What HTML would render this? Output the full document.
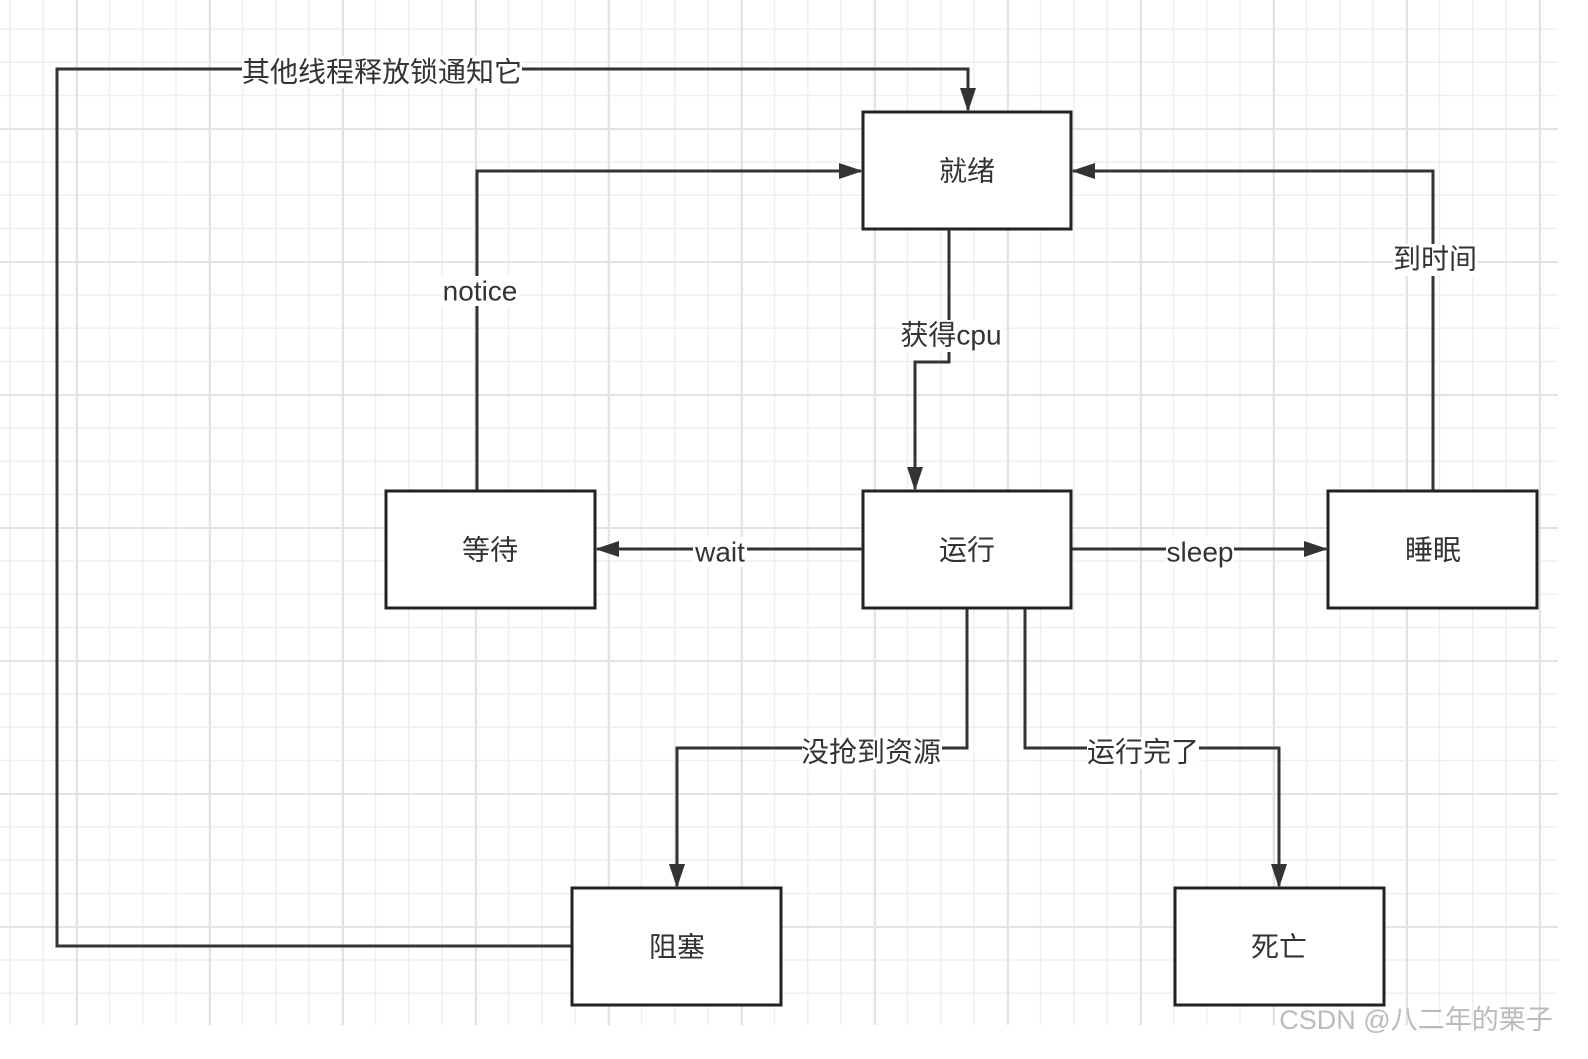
<!DOCTYPE html>
<html><head><meta charset="utf-8"><style>
html,body{margin:0;padding:0;background:#fff;}
body{width:1588px;height:1059px;overflow:hidden;position:relative;}
.grid{position:absolute;left:0;top:0;width:1558px;height:1025px;
background-image:
linear-gradient(to right,#e3e3e3 2px,transparent 2px),
linear-gradient(to bottom,#e3e3e3 2px,transparent 2px),
linear-gradient(to right,#efefef 1.5px,transparent 1.5px),
linear-gradient(to bottom,#efefef 1.5px,transparent 1.5px);
background-size:133px 133px,133px 133px,33.25px 33.25px,33.25px 33.25px;
background-position:76px -5px,76px -5px,9px -5px,9px -5px;}
svg{position:absolute;left:0;top:0;}
text{font-family:"Liberation Sans","Noto Sans CJK SC",sans-serif;font-size:28px;fill:#333;text-anchor:middle;dominant-baseline:central;}
</style></head><body>
<div class="grid"></div>
<svg width="1588" height="1059">
<defs>
<marker id="b" viewBox="0 0 24 24" markerWidth="24" markerHeight="24" refX="22" refY="12" orient="auto" markerUnits="userSpaceOnUse"><path d="M0,4 L24,12 L0,20 z" fill="#333"/></marker></defs>
<g fill="none" stroke="#333" stroke-width="3">
<path d="M572,946 H57 V69 H968 V110" marker-end="url(#b)"/>
<path d="M477,491 V171 H861" marker-end="url(#b)"/>
<path d="M1433,491 V171 H1073" marker-end="url(#b)"/>
<path d="M949,229 V362 H915 V489" marker-end="url(#b)"/>
<path d="M863,549 H597" marker-end="url(#b)"/>
<path d="M1071,549 H1326" marker-end="url(#b)"/>
<path d="M967,608 V748 H677 V886" marker-end="url(#b)"/>
<path d="M1025,608 V748 H1279 V886" marker-end="url(#b)"/>
</g>
<g fill="#fff" stroke="#222" stroke-width="3">
<rect x="863" y="112" width="208" height="117"/>
<rect x="863" y="491" width="208" height="117"/>
<rect x="386" y="491" width="209" height="117"/>
<rect x="1328" y="491" width="209" height="117"/>
<rect x="572" y="888" width="209" height="117"/>
<rect x="1175" y="888" width="209" height="117"/>
</g>
<g fill="#fff">
<rect x="242" y="56" width="280" height="32"/>
<rect x="441" y="276" width="80" height="30"/>
<rect x="1393" y="244" width="84" height="32"/>
<rect x="899" y="320" width="104" height="32"/>
<rect x="693" y="537" width="54" height="30"/>
<rect x="1166" y="537" width="68" height="30"/>
<rect x="802" y="737" width="140" height="32"/>
<rect x="1087" y="737" width="112" height="32"/>
</g>
<text x="382" y="72">其他线程释放锁通知它</text>
<text x="480" y="291">notice</text>
<text x="1435" y="259">到时间</text>
<text x="951" y="335">获得cpu</text>
<text x="720" y="552">wait</text>
<text x="1200" y="552">sleep</text>
<text x="871" y="752">没抢到资源</text>
<text x="1143" y="752">运行完了</text>
<text x="967" y="171">就绪</text>
<text x="967" y="550">运行</text>
<text x="490" y="550">等待</text>
<text x="1433" y="550">睡眠</text>
<text x="677" y="947">阻塞</text>
<text x="1279" y="947">死亡</text>
<text x="1416" y="1020" style="font-size:27px;fill:#bbb">CSDN @八二年的栗子</text>
</svg>
</body></html>
